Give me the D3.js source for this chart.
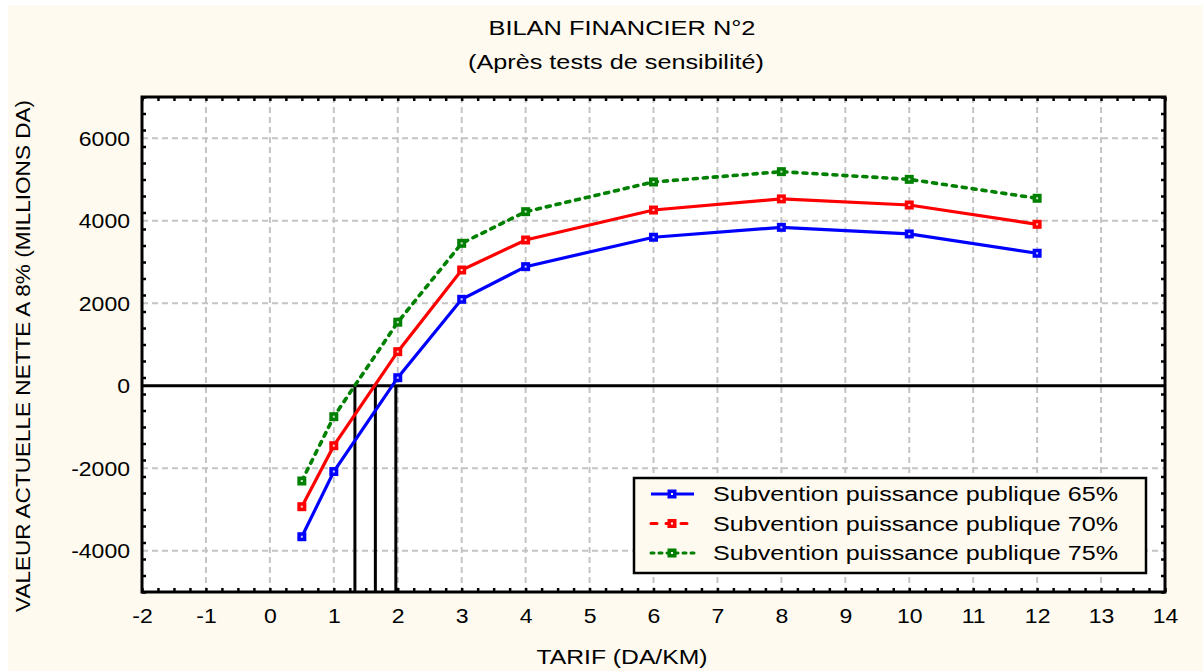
<!DOCTYPE html>
<html><head><meta charset="utf-8">
<script src="https://cdn.jsdelivr.net/npm/d3@7"></script>
<style>body{margin:0;background:#fff}svg{display:block}text{font-family:"Liberation Sans",Arial,sans-serif;fill:#000}</style>
</head><body><svg id="c" width="1203" height="671"></svg>
<script>
const tarifs = [0.5, 1, 2, 3, 4, 6, 8, 10, 12];
const van65 = [-3660, -2080, 195, 2096, 2887, 3600, 3840, 3680, 3212];
const van70 = [-2932, -1453, 826, 2806, 3533, 4260, 4530, 4382, 3914];
const van75 = [-2309, -750, 1540, 3453, 4220, 4940, 5190, 5004, 4545];
const seriesNames = ["Subvention puissance publique 65%", "Subvention puissance publique 70%", "Subvention puissance publique 75%"];
const seriesColors = ["#0000ff", "#ff0000", "#008000"];
const zeroCrossings = [1.33, 1.65, 1.97];
const xTicks = [-2,-1,0,1,2,3,4,5,6,7,8,9,10,11,12,13,14];
const yTicks = [-4000,-2000,0,2000,4000,6000];
const title = "BILAN FINANCIER N°2";
const subtitle = "(Après tests de sensibilité)";
const xTitle = "TARIF (DA/KM)";
const yTitle = "VALEUR ACTUELLE NETTE A 8% (MILLIONS DA)";

const svg = d3.select("#c");
const L=142,R=1165,T=97,B=592;
const x = d3.scaleLinear().domain([-2,14]).range([L,R]);
const y = d3.scaleLinear().domain([-5000,7000]).range([B,T]);

svg.append("rect").attr("x",8).attr("y",5).attr("width",1195).attr("height",666).attr("fill","#fefaef");
svg.append("rect").attr("x",L).attr("y",T).attr("width",R-L).attr("height",B-T).attr("fill","#fff");

function fitText(sel, factor){ sel.each(function(){ const w=this.getComputedTextLength(); d3.select(this).attr("textLength",w*factor).attr("lengthAdjust","spacingAndGlyphs"); }); }
const fmt = d => String(d);

// titles
svg.append("text").attr("x",622).attr("y",35).attr("text-anchor","middle").style("font-size","20px").text(title).attr("textLength",267).attr("lengthAdjust","spacingAndGlyphs");
svg.append("text").attr("x",616).attr("y",69).attr("text-anchor","middle").style("font-size","20px").text(subtitle).attr("textLength",296).attr("lengthAdjust","spacingAndGlyphs");
svg.append("text").attr("x",622).attr("y",664).attr("text-anchor","middle").style("font-size","20px").text(xTitle).attr("textLength",171).attr("lengthAdjust","spacingAndGlyphs");
svg.append("text").attr("transform","translate(30,356) rotate(-90)").attr("text-anchor","middle").style("font-size","21px").text(yTitle).attr("textLength",512).attr("lengthAdjust","spacingAndGlyphs");

// grid
const g = svg.append("g");
g.selectAll(".gx").data(xTicks.filter(d=>d>-2&&d<14)).join("line")
 .attr("x1",d=>x(d)).attr("x2",d=>x(d)).attr("y1",T).attr("y2",B)
 .attr("stroke","#c4c4c4").attr("stroke-width",2).attr("stroke-dasharray","6,4");
g.selectAll(".gy").data(yTicks).join("line")
 .attr("y1",d=>y(d)).attr("y2",d=>y(d)).attr("x1",L).attr("x2",R)
 .attr("stroke","#c4c4c4").attr("stroke-width",2).attr("stroke-dasharray","6,4");

// axes with inward ticks
const xMinor = d3.range(-2,14.001,0.25);
const yMinor = d3.range(-5000,7000.1,400);
const ax = svg.append("g");
ax.append("g").attr("transform",`translate(0,${B})`).call(d3.axisTop(x).tickValues(xMinor).tickSize(4).tickFormat(""));
ax.append("g").attr("transform",`translate(0,${T})`).call(d3.axisBottom(x).tickValues(xMinor).tickSize(4).tickFormat(""));
ax.append("g").attr("transform",`translate(${L},0)`).call(d3.axisRight(y).tickValues(yMinor).tickSize(4).tickFormat(""));
ax.append("g").attr("transform",`translate(${R},0)`).call(d3.axisLeft(y).tickValues(yMinor).tickSize(4).tickFormat(""));
ax.selectAll(".domain").remove();
ax.selectAll("line").attr("stroke","#000").attr("stroke-width",2.5);

// tick labels
const xl = svg.append("g").attr("transform",`translate(0,${B+31})`).call(d3.axisBottom(x).tickValues(xTicks).tickSize(0).tickPadding(0).tickFormat(fmt));
xl.select(".domain").remove();
xl.selectAll("text").style("font-size","20px").attr("dy",0).attr("font-family",null);
fitText(xl.selectAll("text"),1.15);
const yl = svg.append("g").attr("transform",`translate(${L-12},0)`).call(d3.axisLeft(y).tickValues(yTicks).tickSize(0).tickPadding(0).tickFormat(fmt));
yl.select(".domain").remove();
yl.selectAll("text").style("font-size","20px").attr("dy","0.36em").attr("font-family",null);
fitText(yl.selectAll("text"),1.15);

// zero line and crossing verticals
svg.append("line").attr("x1",L).attr("x2",R).attr("y1",y(0)).attr("y2",y(0)).attr("stroke","#000").attr("stroke-width",3);
svg.selectAll(".zc").data(zeroCrossings).join("line")
 .attr("x1",d=>x(d)).attr("x2",d=>x(d)).attr("y1",y(0)).attr("y2",B).attr("stroke","#000").attr("stroke-width",3);

// series
const allSeries = [van65, van70, van75];
const dashes = [null, null, "4,6"];
const line = d3.line().x(d=>x(d[0])).y(d=>y(d[1]));
allSeries.forEach((vals,i)=>{
  const pts = tarifs.map((t,j)=>[t,vals[j]]);
  svg.append("path").attr("d",line(pts)).attr("fill","none").attr("stroke",seriesColors[i]).attr("stroke-width",i===2?3.6:3.2)
    .attr("stroke-dasharray",dashes[i]).attr("stroke-linecap",i===2?"round":"butt");
  const m = svg.append("g");
  m.selectAll("rect.o").data(pts).join("rect").attr("x",d=>x(d[0])-4.5).attr("y",d=>y(d[1])-4.5).attr("width",9).attr("height",9).attr("fill",seriesColors[i]);
  m.selectAll("rect.i").data(pts).join("rect").attr("x",d=>x(d[0])-1).attr("y",d=>y(d[1])-1).attr("width",2).attr("height",2).attr("fill","#fff").attr("opacity",0.8);
});

// frame
svg.append("rect").attr("x",L).attr("y",T).attr("width",R-L).attr("height",B-T).attr("fill","none").attr("stroke","#000").attr("stroke-width",3);

// legend
const lg = svg.append("g");
lg.append("rect").attr("x",634).attr("y",478).attr("width",512).attr("height",95).attr("fill","#fefaef").attr("stroke","#000").attr("stroke-width",2.5);
const legDash = [null,"6,9","3,5"];
seriesNames.forEach((n,i)=>{
  const yy = 494 + i*29.5;
  lg.append("line").attr("x1",651).attr("x2",694).attr("y1",yy).attr("y2",yy).attr("stroke",seriesColors[i]).attr("stroke-width",3).attr("stroke-dasharray",legDash[i]).attr("stroke-linecap",i===0?"butt":"round");
  lg.append("rect").attr("x",667.5).attr("y",yy-4.5).attr("width",9).attr("height",9).attr("fill",seriesColors[i]);
  lg.append("rect").attr("x",671).attr("y",yy-1).attr("width",2).attr("height",2).attr("fill","#fff");
  lg.append("text").attr("x",713).attr("y",yy+7).style("font-size","20px").text(n).attr("textLength",405).attr("lengthAdjust","spacingAndGlyphs");
});
</script></body></html>
